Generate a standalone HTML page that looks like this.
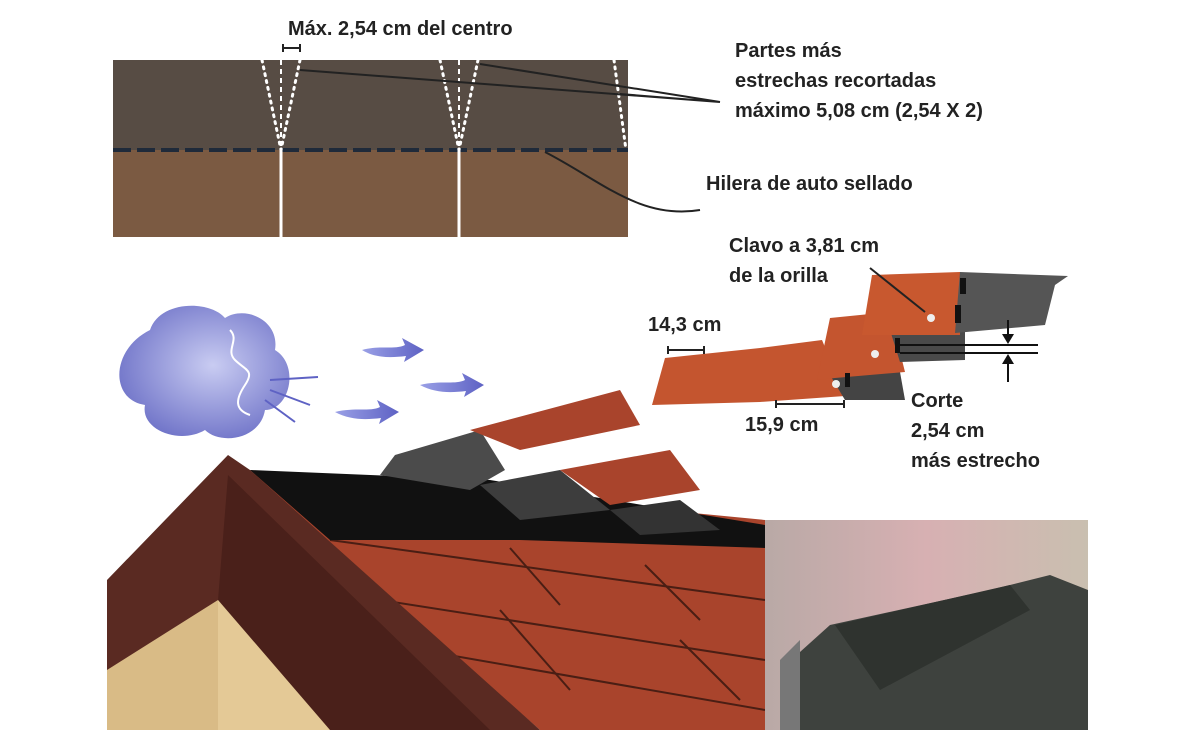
<!DOCTYPE html>
<html><head><meta charset="utf-8"><style>
html,body{margin:0;padding:0;background:#fff;}
svg{display:block}
text{font-family:"Liberation Sans",sans-serif;font-weight:bold;fill:#222;}
</style></head><body>
<svg width="1200" height="750" viewBox="0 0 1200 750" xmlns="http://www.w3.org/2000/svg">
<defs>
<radialGradient id="cl" cx="0.55" cy="0.45" r="0.6"><stop offset="0" stop-color="#c9ccf2"/><stop offset="1" stop-color="#6f73c8"/></radialGradient>
<linearGradient id="ins" x1="0" y1="0" x2="1" y2="0"><stop offset="0" stop-color="#b9a9a6"/><stop offset="0.5" stop-color="#d7b0b2"/><stop offset="1" stop-color="#c9bfb0"/></linearGradient>
<linearGradient id="arr" x1="0" x2="1"><stop offset="0" stop-color="#9aa0e6"/><stop offset="1" stop-color="#5e62c4"/></linearGradient>
</defs>
<!-- top strip -->
<rect x="113" y="60" width="515" height="90" fill="#574c44"/>
<rect x="113" y="150" width="515" height="87" fill="#7b5a42"/>
<line x1="113" y1="150" x2="628" y2="150" stroke="#1f2a3a" stroke-width="4" stroke-dasharray="18,6"/>
<line x1="281" y1="150" x2="281" y2="237" stroke="#fff" stroke-width="3"/>
<line x1="459" y1="150" x2="459" y2="237" stroke="#fff" stroke-width="3"/>
<line x1="281" y1="60" x2="281" y2="150" stroke="#fff" stroke-width="2" stroke-dasharray="5,4"/>
<line x1="459" y1="60" x2="459" y2="150" stroke="#fff" stroke-width="2" stroke-dasharray="5,4"/>
<g stroke="#fff" stroke-width="3" stroke-dasharray="2,5" stroke-linecap="round" fill="none">
<path d="M262 60 L281 150 L300 60"/><path d="M440 60 L459 150 L478 60"/><path d="M614 60 L626 150"/>
</g>
<text x="288" y="35" font-size="20">Máx. 2,54 cm del centro</text>
<path d="M283 44v8M283 48h17M300 44v8" stroke="#222" stroke-width="2" fill="none"/>
<text x="735" y="57" font-size="20">Partes más</text>
<text x="735" y="87" font-size="20">estrechas recortadas</text>
<text x="735" y="117" font-size="20">máximo 5,08 cm (2,54 X 2)</text>
<path d="M720 102 L300 70 M720 102 L480 64 M720 102 L620 94" stroke="#222" stroke-width="2"/>
<text x="706" y="190" font-size="20">Hilera de auto sellado</text>
<path d="M700 210 C640 220 600 180 545 152" stroke="#222" stroke-width="2" fill="none"/>
<!-- cloud -->
<path d="M150 330 C160 300 210 300 225 318 C245 305 280 320 275 350 C300 365 290 410 265 410 C260 440 220 445 205 430 C180 445 140 430 145 405 C110 400 110 350 150 330Z" fill="url(#cl)"/>
<path d="M230 330c10 10-5 20 5 30s20 10 10 25-10 25 5 30" stroke="#fff" stroke-width="2" fill="none"/>
<path d="M270 380l48-3M270 390l40 15M265 400l30 22" stroke="#5e62c4" stroke-width="2"/>
<g fill="url(#arr)">
<path d="M362 350 C380 345 395 350 405 345 L402 338 L424 350 L404 362 L406 356 C390 358 375 358 362 350Z"/>
<path d="M420 385 C440 380 455 385 465 380 L462 373 L484 385 L464 397 L466 391 C450 393 435 393 420 385Z"/>
<path d="M335 412 C355 407 370 412 380 407 L377 400 L399 412 L379 424 L381 418 C365 420 350 420 335 412Z"/>
</g>
<!-- roof -->
<polygon points="250,470 765,520 860,520 860,730 540,730 300,520" fill="#a9442c"/>
<g stroke="#4a1e14" stroke-width="2"><line x1="330" y1="540" x2="765" y2="600"/><line x1="380" y1="600" x2="765" y2="660"/><line x1="420" y1="650" x2="765" y2="710"/><line x1="510" y1="548" x2="560" y2="605"/><line x1="645" y1="565" x2="700" y2="620"/><line x1="500" y1="610" x2="570" y2="690"/><line x1="680" y1="640" x2="740" y2="700"/></g>
<polygon points="250,470 490,480 765,525 765,548 520,540 330,540" fill="#111"/>
<polygon points="380,475 395,455 480,430 505,470 470,490" fill="#4b4b4b"/>
<polygon points="470,430 620,390 640,425 520,450" fill="#a9442c"/>
<polygon points="480,485 560,470 610,510 520,520" fill="#3d3d3d"/>
<polygon points="560,470 670,450 700,490 610,505" fill="#a9442c"/>
<polygon points="610,510 680,500 720,530 640,535" fill="#333"/>
<polygon points="107,580 228,455 250,470 540,730 107,730" fill="#5a2a22"/>
<polygon points="218,600 228,475 490,730 215,730" fill="#4a201a"/>
<polygon points="107,670 218,600 218,730 107,730" fill="#d9bb86"/>
<polygon points="218,600 330,730 218,730" fill="#e4c996"/>
<!-- inset -->
<rect x="765" y="520" width="323" height="210" fill="url(#ins)"/>
<polygon points="780,670 830,625 990,590 1050,575 1088,590 1088,730 780,730" fill="#3e423e"/>
<polygon points="780,660 800,640 800,730 780,730" fill="#777"/>
<polygon points="835,625 1010,585 1030,610 880,690" fill="#2f332f"/>
<!-- right shingles -->
<polygon points="652,405 665,358 760,348 822,340 845,396 760,402" fill="#c4552f"/>
<polygon points="830,375 900,372 905,400 845,400" fill="#444"/>
<polygon points="817,380 830,318 890,312 905,372 835,378" fill="#c4552f"/>
<polygon points="890,330 965,330 965,360 900,362" fill="#4a4a4a"/>
<polygon points="862,335 872,275 960,272 960,335" fill="#c8582f"/>
<polygon points="960,272 1068,276 1055,285 1045,325 955,333" fill="#555"/>
<g fill="#111"><rect x="960" y="278" width="6" height="16"/><rect x="955" y="305" width="6" height="18"/><rect x="895" y="338" width="5" height="15"/><rect x="845" y="373" width="5" height="14"/></g>
<g fill="#eee"><circle cx="931" cy="318" r="4"/><circle cx="875" cy="354" r="4"/><circle cx="836" cy="384" r="4"/></g>
<path d="M870 268 L925 312" stroke="#222" stroke-width="2"/>
<path d="M900 345 L1038 345 M900 353 L1038 353 M1008 320v20M1008 362v20" stroke="#111" stroke-width="2"/>
<path d="M1002 334l6 10 6-10zM1002 364l6-10 6 10z" fill="#111"/>
<text x="729" y="252" font-size="20">Clavo a 3,81 cm</text>
<text x="729" y="282" font-size="20">de la orilla</text>
<text x="648" y="331" font-size="20">14,3 cm</text>
<path d="M668 346v8M668 350h36M704 346v8" stroke="#222" stroke-width="2"/>
<path d="M776 400v8M776 404h68M844 400v8" stroke="#222" stroke-width="2"/>
<text x="745" y="431" font-size="20">15,9 cm</text>
<text x="911" y="407" font-size="20">Corte</text>
<text x="911" y="437" font-size="20">2,54 cm</text>
<text x="911" y="467" font-size="20">más estrecho</text>
</svg>
</body></html>
